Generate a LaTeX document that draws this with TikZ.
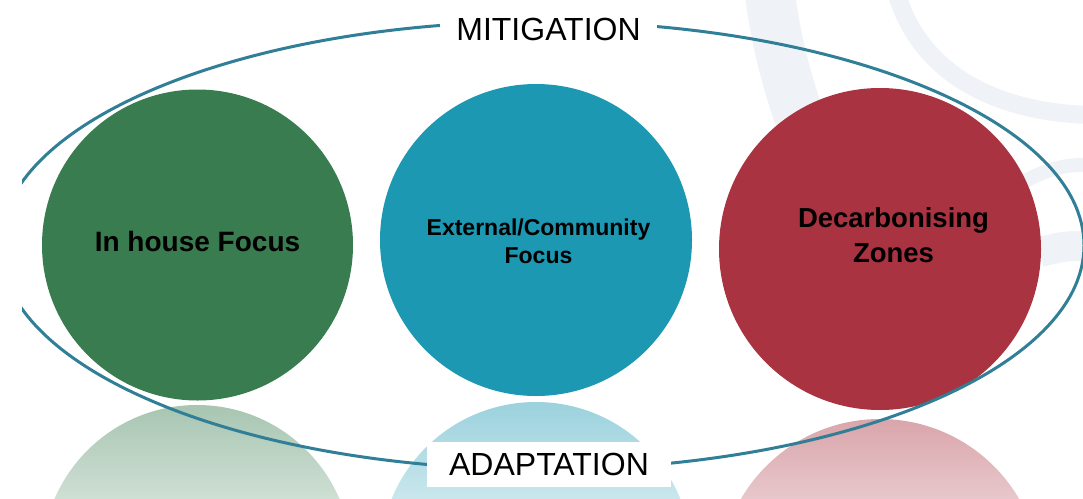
\documentclass[tikz,border=0pt]{standalone}
\usepackage{fontspec}
\setmainfont{Liberation Sans}
\usepackage{xcolor}
\usepackage{tikz}
\usetikzlibrary{positioning, calc}
\definecolor{color0}{RGB}{56,124,79}
\definecolor{color1}{RGB}{29,152,178}
\definecolor{color2}{RGB}{169,51,64}
\definecolor{color3}{RGB}{49,127,150}
\definecolor{color4}{RGB}{239,242,246}

\begin{document}
\begin{tikzpicture}[x=1pt, y=-1pt]
	\tikzstyle{focus}=[circle, inner sep=0pt, draw=none]
	\tikzstyle{focustext}=[align=center, text=black, inner sep=0pt]
	\tikzstyle{labelbox}=[fill=white, inner ysep=11pt, font=\fontsize{32}{38}\selectfont]

	\useasboundingbox (0,0) rectangle (1083,498);

	% faint background bands
	\draw[color4, line width=50pt] (770,-5) .. controls (776,40) and (786,80) .. (802,125);
	\draw[color4, line width=18pt] (897,-5) .. controls (920,70) and (990,112) .. (1090,115);
	\draw[color4, line width=14pt] (1090,165) .. controls (1060,163) and (1030,175) .. (1010,192);
	\draw[color4, line width=30pt] (1090,246) .. controls (1065,246) .. (1040,252);

	% reflections
	\foreach \cx/\top/\r/\col in {197/405/155/color0, 536/402/156/color1, 880/419/161/color2}{
		\begin{scope}
			\clip (\cx, \top+\r) circle (\r);
			\shade[top color=\col!44!white, bottom color=white] (\cx-\r, \top) rectangle (\cx+\r, \top+210);
		\end{scope}
	}

	\node[focus, fill=color0, minimum size=311pt] (inhouse) at (197.5, 245) {};
	\node[focus, fill=color1, minimum size=312pt] (external) at (536, 240) {};
	\node[focus, fill=color2, minimum size=322pt] (decarb) at (880, 249) {};

	\node[focustext, font=\fontsize{28}{34}\selectfont\bfseries] (inhouse-text) at (197.5, 241) {In house Focus};
	\node[focustext, font=\fontsize{23}{28}\selectfont\bfseries] (external-text) at (538.5, 241) {External/Community\\Focus};
	\node[focustext, font=\fontsize{27.5}{35}\selectfont\bfseries] (decarb-text) at (893.5, 235) {Decarbonising\\Zones};

	\begin{scope}
		\clip (22,0) rectangle (1083,498);
		\draw[color3, line width=3pt] (542,245.5) ellipse [x radius=542pt, y radius=224pt];
	\end{scope}

	\node[labelbox, inner xsep=16.5pt] (mitigation) at (548.5, 29.5) {MITIGATION};
	\node[labelbox, inner xsep=22.5pt] (adaptation) at (549, 464.5) {ADAPTATION};
\end{tikzpicture}
\end{document}
